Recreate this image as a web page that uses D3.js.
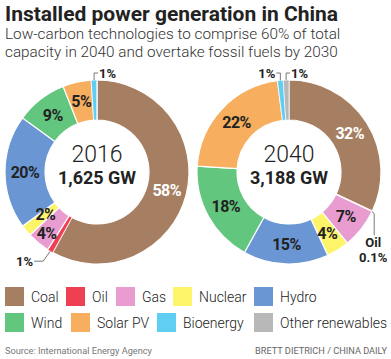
<!DOCTYPE html>
<html>
<head>
<meta charset="utf-8">
<script src="https://cdnjs.cloudflare.com/ajax/libs/d3/7.8.5/d3.min.js"></script>
<style>
  body { margin: 0; background: #fff; }
  svg text { font-family: Roboto, "Liberation Sans", sans-serif; }
</style>
</head>
<body>
<div id="chart"></div>
<script>
// ************ data ************
const categories = ["Coal", "Oil", "Gas", "Nuclear", "Hydro", "Wind", "Solar PV", "Bioenergy", "Other renewables"]
const colors = ["#a67f63", "#ef3f53", "#e89ccf", "#fdf46a", "#6a97d4", "#62c67e", "#f7ae5e", "#60cdf3", "#b9b8b9"]
const values2016 = [58, 1, 4, 2, 20, 9, 5, 1, 0]
const values2040 = [32, 0.1, 7, 4, 15, 18, 22, 1, 1]
const labels2016 = ["58%", "", "4%", "2%", "20%", "9%", "5%", "", ""]
const labels2040 = ["32%", "", "7%", "4%", "15%", "18%", "22%", "", ""]
const totals = [{ year: "2016", gw: "1,625 GW" }, { year: "2040", gw: "3,188 GW" }]

const width = 391
const height = 359

const color = d3.scaleOrdinal().domain(categories).range(colors)

const svg = d3.select("#chart")
  .append("svg")
  .attr("width", width)
  .attr("height", height)

// title
svg.append("text")
  .attr("x", 5)
  .attr("y", 21)
  .style("font-size", "21px")
  .style("font-weight", "bold")
  .attr("fill", "#222")
  .text("Installed power generation in China")

svg.append("text")
  .attr("x", 5)
  .attr("y", 39)
  .style("font-size", "15.3px")
  .style("font-weight", 300)
  .attr("fill", "#333")
  .text("Low-carbon technologies to comprise 60% of total")

svg.append("text")
  .attr("x", 5)
  .attr("y", 57)
  .style("font-size", "15.3px")
  .style("font-weight", 300)
  .attr("fill", "#333")
  .text("capacity in 2040 and overtake fossil fuels by 2030")

// ************ donuts ************
const outerR = 92
const innerR = 52

const pie = d3.pie().sort(null).value(d => d.value)
const arc = d3.arc().innerRadius(innerR).outerRadius(outerR)

// label radius: tiny 2016 slices get pushed in/out so they don't collide
function labelRadius(year, cat) {
  if (year == "2016" && cat == "Gas") return 79
  if (year == "2016" && cat == "Nuclear") return 67
  return 72
}

function donut(cx, cy, values, labels, total) {
  const g = svg.append("g").attr("transform", "translate(" + cx + "," + cy + ")")
  const data = categories.map((c, i) => ({ cat: c, value: values[i], label: labels[i] }))
  const arcs = pie(data)

  g.selectAll("path")
    .data(arcs)
    .enter()
    .append("path")
    .attr("d", arc)
    .attr("fill", d => color(d.data.cat))
    .attr("stroke", "#fff")
    .attr("stroke-width", d => d.data.value < 2 ? 0.6 : 1.2)

  g.selectAll(".slice-label")
    .data(arcs.filter(d => d.data.label))
    .enter()
    .append("text")
    .attr("class", "slice-label")
    .attr("transform", function(d) {
      const r = labelRadius(total.year, d.data.cat)
      const la = d3.arc().innerRadius(r).outerRadius(r)
      return "translate(" + la.centroid(d) + ")"
    })
    .attr("text-anchor", "middle")
    .attr("dy", "0.36em")
    .style("font-size", "16px")
    .style("font-weight", "bold")
    .style("letter-spacing", "-0.5px")
    .attr("fill", d => d.data.cat == "Coal" ? "#fff" : "#222")
    .text(d => d.data.label)

  g.append("text")
    .attr("y", -10)
    .attr("text-anchor", "middle")
    .style("font-size", "23px")
    .style("font-weight", 300)
    .attr("fill", "#222")
    .text(total.year)

  g.append("text")
    .attr("y", 12)
    .attr("text-anchor", "middle")
    .style("font-size", "18px")
    .style("font-weight", "bold")
    .attr("fill", "#222")
    .text(total.gw)

  return { g: g, arcs: arcs }
}

const left = donut(97, 172, values2016, labels2016, totals[0])
const right = donut(289, 172, values2040, labels2040, totals[1])

// callouts
function callout(g, pts, txt, x, y, anchor) {
  g.append("path")
    .attr("d", d3.line()(pts))
    .attr("fill", "none")
    .attr("stroke", "#555")
    .attr("stroke-width", 0.8)
  const t = g.append("text")
    .attr("x", x)
    .attr("y", y)
    .attr("text-anchor", anchor)
    .style("font-size", "13px")
    .style("font-weight", "bold")
    .attr("fill", "#222")
  txt.forEach((s, i) => {
    t.append("tspan").attr("x", x).attr("dy", i == 0 ? 0 : 15).text(s)
  })
}

// edge point of a slice at a given fraction of its sweep
function edge(a, f, r) {
  const ang = a.startAngle + (a.endAngle - a.startAngle) * f
  return [r * Math.sin(ang), -r * Math.cos(ang)]
}

// 2016 bioenergy
let p = edge(left.arcs[7], 0.5, outerR)
callout(left.g, [p, [p[0], -99], [p[0] + 4, -99]], ["1%"], p[0] + 5, -94, "start")
// 2016 oil
p = edge(left.arcs[1], 0.5, outerR)
callout(left.g, [p, [p[0] - 7, p[1] + 10], [p[0] - 16, p[1] + 10]], ["1%"], p[0] - 17, p[1] + 15, "end")
// 2040 bioenergy
p = edge(right.arcs[7], 0.5, outerR)
callout(right.g, [p, [p[0], -99], [p[0] - 4, -99]], ["1%"], p[0] - 5, -94, "end")
// 2040 other renewables
p = edge(right.arcs[8], 0.5, outerR)
callout(right.g, [p, [p[0], -99], [p[0] + 4, -99]], ["1%"], p[0] + 5, -94, "start")
// 2040 oil
p = edge(right.arcs[1], 0.5, outerR)
callout(right.g, [p, [p[0] + 2, p[1] + 3], [p[0] + 2, p[1] + 24]], ["Oil", "0.1%"], p[0] + 1, p[1] + 36, "middle")

// ************ legend ************
const legendRows = [
  [["Coal", 5], ["Oil", 66], ["Gas", 116], ["Nuclear", 173], ["Hydro", 254]],
  [["Wind", 5], ["Solar PV", 71], ["Bioenergy", 157], ["Other renewables", 254]]
]

legendRows.forEach((row, r) => {
  const lg = svg.selectAll(".legend-" + r)
    .data(row)
    .enter()
    .append("g")
    .attr("class", "legend-" + r)
    .attr("transform", d => "translate(" + d[1] + "," + (287 + r * 26) + ")")

  lg.append("rect")
    .attr("width", 19)
    .attr("height", 19)
    .attr("fill", d => color(d[0]))

  lg.append("text")
    .attr("x", 26)
    .attr("y", 15)
    .style("font-size", "14px")
    .style("font-weight", 300)
    .attr("fill", "#222")
    .text(d => d[0])
})

// footer
svg.append("text")
  .attr("x", 5)
  .attr("y", 354)
  .style("font-size", "9.2px")
  .attr("fill", "#777")
  .text("Source: International Energy Agency")

svg.append("text")
  .attr("x", 387)
  .attr("y", 354)
  .attr("text-anchor", "end")
  .style("font-size", "9.2px")
  .attr("fill", "#666")
  .text("BRETT DIETRICH  / CHINA DAILY")
</script>
</body>
</html>
